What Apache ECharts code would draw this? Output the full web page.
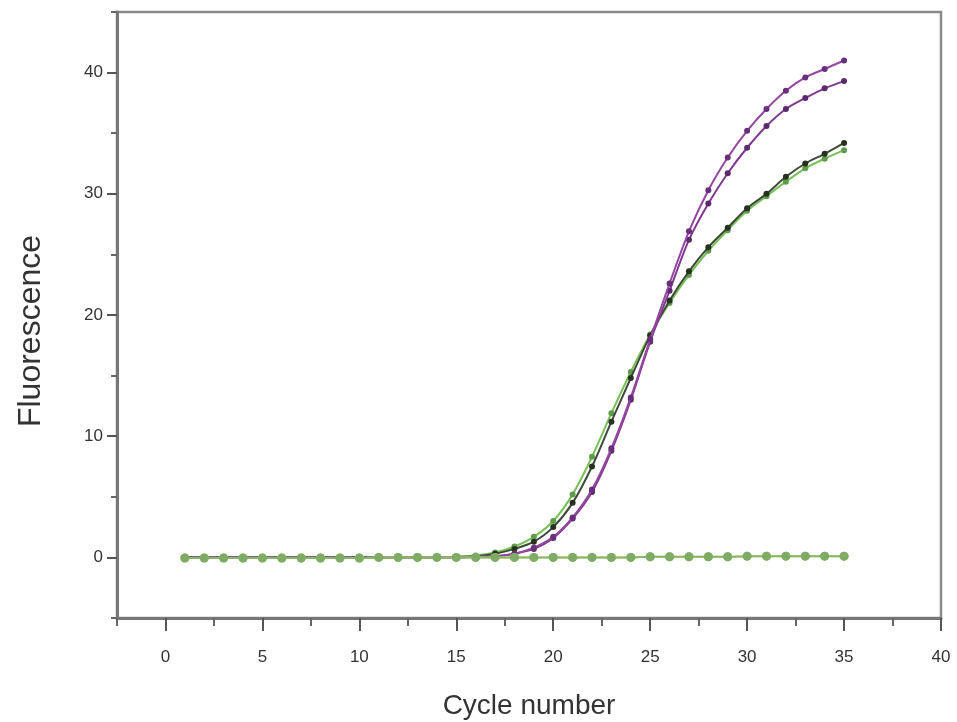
<!DOCTYPE html>
<html>
<head>
<meta charset="utf-8">
<script src="https://cdn.jsdelivr.net/npm/echarts@6/dist/echarts.min.js"></script>
<style>html,body{margin:0;padding:0;background:#fff}#c{width:957px;height:722px}</style>
</head>
<body>
<div id="c"></div>
<script>
const cycles = [1,2,3,4,5,6,7,8,9,10,11,12,13,14,15,16,17,18,19,20,21,22,23,24,25,26,27,28,29,30,31,32,33,34,35];
const purpleHigh = [0,0,0,0,0,0,0,0,0,0,0,0,0,0,0,0.05,0.1,0.3,0.8,1.7,3.3,5.6,9.0,13.2,18.0,22.6,26.9,30.3,33.0,35.2,37.0,38.5,39.6,40.3,41.0];
const purpleLow  = [0,0,0,0,0,0,0,0,0,0,0,0,0,0,0,0.05,0.1,0.3,0.7,1.6,3.2,5.4,8.8,13.0,17.8,22.0,26.2,29.2,31.7,33.8,35.6,37.0,37.9,38.7,39.3];
const darkCurve  = [0,0,0,0,0,0,0,0,0,0,0,0,0,0,0.05,0.1,0.3,0.7,1.3,2.5,4.5,7.5,11.2,14.8,18.3,21.2,23.6,25.6,27.2,28.8,30.0,31.4,32.5,33.3,34.2];
const greenCurve = [0,0,0,0,0,0,0,0,0,0,0,0,0,0,0.05,0.15,0.4,0.9,1.7,3.0,5.2,8.3,11.9,15.3,18.4,21.0,23.3,25.3,27.0,28.6,29.8,31.0,32.1,32.9,33.6];
const flatGreen  = [-0.05,-0.05,-0.05,-0.05,-0.05,-0.05,-0.05,-0.05,-0.05,-0.05,0,0,0,0,0,0,0,0,0,0,0,0,0,0,0.05,0.05,0.05,0.05,0.05,0.1,0.1,0.1,0.1,0.1,0.1];
const flatYellow = [-0.05,-0.05,-0.05,-0.05,-0.05,-0.05,-0.05,-0.05,-0.05,-0.05,0,0,0,0,0,0,0,0,0,0,0,0,0,0,0.05,0.05,0.05,0.05,0.05,0.1,0.1,0.1,0.1,0.1,0.1];
const xMajorTicks = [0,5,10,15,20,25,30,35,40];
const yMajorTicks = [0,10,20,30,40];

const pairs = v => cycles.map((c,i)=>[c,v[i]]);
const font = 'Liberation Sans, Arial, sans-serif';

function series(name, vals, lineColor, markColor, size, z){
  return {name, type:'line', data:pairs(vals), smooth:0.3, symbol:'circle', symbolSize:size,
    lineStyle:{color:lineColor,width:2}, itemStyle:{color:markColor}, z:z, animation:false};
}

const chart = echarts.init(document.getElementById('c'));
chart.setOption({
  animation:false,
  grid:{left:117,right:16,top:12,bottom:104,outerBoundsMode:'none',containLabel:false,show:true,borderColor:'#8a8a8a',borderWidth:2.5,backgroundColor:'transparent'},
  xAxis:[
    {type:'value',min:-2.5,max:40,interval:2.5,
     axisLine:{onZero:false,lineStyle:{color:'#777',width:3}},
     axisTick:{length:8,lineStyle:{color:'#666',width:2}},
     axisLabel:{show:false},splitLine:{show:false}},
    {type:'value',min:-2.5,max:40,position:'bottom',
     axisLine:{show:false,onZero:false},
     axisTick:{customValues:xMajorTicks,length:13,lineStyle:{color:'#555',width:2}},
     axisLabel:{customValues:xMajorTicks,margin:31,fontSize:17,color:'#333',fontFamily:font},
     splitLine:{show:false},
     name:'Cycle number',nameLocation:'middle',nameGap:74,
     nameTextStyle:{fontSize:28,color:'#333',fontFamily:font}}
  ],
  yAxis:[
    {type:'value',min:-5,max:45,interval:5,
     axisLine:{show:true,onZero:false,lineStyle:{color:'#777',width:3}},
     axisTick:{show:true,length:6,lineStyle:{color:'#666',width:2}},
     axisLabel:{show:false},splitLine:{show:false}},
    {type:'value',min:-5,max:45,position:'left',
     axisLine:{show:false,onZero:false},
     axisTick:{show:true,customValues:yMajorTicks,length:10,lineStyle:{color:'#555',width:2}},
     axisLabel:{customValues:yMajorTicks,margin:14,fontSize:17,color:'#333',fontFamily:font},
     splitLine:{show:false}}
  ],
  graphic:[{type:'text',x:31,y:331,rotation:Math.PI/2,
    style:{text:'Fluorescence',fontSize:32,fill:'#333',fontFamily:font,align:'center',verticalAlign:'middle'}}],
  series:[
    series('green', greenCurve, '#78c058', '#5f9c4a', 6, 2),
    series('dark', darkCurve, '#3d4a38', '#26321f', 6, 3),
    series('purpleLow', purpleLow, '#7e3a8e', '#5b2a6c', 6, 4),
    series('purpleHigh', purpleHigh, '#94479f', '#6a2f7c', 6, 5),
    series('flatYellow', flatYellow, '#cfd468', '#9fbc6a', 9, 6),
    series('flatGreen', flatGreen, '#86b86a', '#7fac64', 9, 7)
  ]
});
</script>
</body>
</html>
